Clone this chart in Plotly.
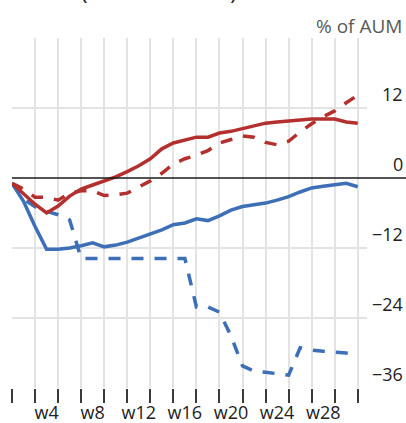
import plotly.graph_objects as go

# Weekly cumulative flows, % of AUM
weeks = list(range(1, 32))

red_solid = [-0.9, -2.7, -4.5, -6.0, -4.8, -3.1, -1.9, -1.2, -0.5, 0.2,
             1.1, 2.1, 3.3, 5.0, 6.0, 6.5, 7.0, 7.0, 7.7, 8.0,
             8.5, 8.9, 9.4, 9.6, 9.8, 9.9, 10.1, 10.1, 10.1, 9.6, 9.4]

red_dashed = [-0.9, -1.9, -3.3, -3.3, -3.8, -2.6, -2.2, -2.2, -3.0, -2.9,
              -2.6, -1.5, -0.5, 0.8, 2.4, 3.3, 3.9, 4.7, 6.0, 6.6,
              7.2, 7.0, 6.1, 5.7, 6.3, 7.9, 9.3, 10.5, 11.5, 12.9, 14.2]

blue_solid = [-0.9, -4.0, -8.3, -12.2, -12.2, -12.0, -11.6, -11.1, -11.8, -11.5,
              -11.0, -10.3, -9.6, -8.9, -8.0, -7.7, -7.0, -7.3, -6.5, -5.5,
              -4.9, -4.6, -4.3, -3.8, -3.2, -2.4, -1.7, -1.4, -1.2, -0.9, -1.5]

blue_dashed = [-0.9, -3.6, -4.9, -5.7, -6.3, -7.2, -13.8, -13.8, -13.8, -13.8,
               -13.8, -13.8, -13.8, -13.8, -13.8, -13.8, -22.1, -22.1, -23.0, -27.1,
               -32.2, -33.1, -33.3, -33.6, -33.8, -29.1, -29.5, -29.7, -29.8, -30.0, -30.2]

x_tick_weeks = [4, 8, 12, 16, 20, 24, 28]
x_tick_labels = ["w4", "w8", "w12", "w16", "w20", "w24", "w28"]
y_tick_values = [12, 0, -12, -24, -36]
y_tick_labels = ["12", "0", "\u221212", "\u221224", "\u221236"]
grid_values = [24, 12, -12, -24]

RED = "#b3302e"
BLUE = "#3d6fb6"
FONT = "Open Sans"

fig = go.Figure()

series = [
    (blue_dashed, BLUE, "12px,11px"),
    (blue_solid, BLUE, "solid"),
    (red_dashed, RED, "12px,11px"),
    (red_solid, RED, "solid"),
]
for values, color, dash in series:
    fig.add_trace(go.Scatter(
        x=weeks, y=values, mode="lines",
        line=dict(color=color, width=3.5, dash=dash),
        showlegend=False, hoverinfo="skip",
    ))

# Zero line runs under the right-hand labels
fig.add_shape(type="line", xref="paper", yref="y", x0=0, x1=1.11, y0=0, y1=0,
              line=dict(color="#1a1a1a", width=1.5), layer="above")

# Right-hand value labels sit just above their gridlines
for v, t in zip(y_tick_values, y_tick_labels):
    fig.add_annotation(x=1.107, xref="paper", y=v, yref="y", text=t,
                       xanchor="right", yanchor="bottom", showarrow=False,
                       font=dict(family=FONT, size=18, color="#222222"))

fig.add_annotation(x=1.105, xref="paper", y=1.0, yref="paper", yshift=-3,
                   text="% of AUM", xanchor="right", yanchor="bottom",
                   showarrow=False, font=dict(family=FONT, size=19, color="#5a5a5a"))

fig.add_annotation(x=0.19, xref="paper", y=1.085, yref="paper",
                   text="(" + "\u00a0" * 25 + ")", xanchor="left", yanchor="bottom",
                   showarrow=False, font=dict(family=FONT, size=22, color="#222222"))

fig.update_layout(
    width=406, height=423,
    margin=dict(l=12, r=39, t=38, b=35),
    paper_bgcolor="white", plot_bgcolor="white",
    font=dict(family=FONT, size=18, color="#222222"),
    xaxis=dict(
        range=[1, 31.8], tickvals=x_tick_weeks, ticktext=x_tick_labels,
        ticks="outside", ticklen=8, tickcolor="rgba(0,0,0,0)",
        showgrid=False, zeroline=False, showline=False, automargin=False,
        tickfont=dict(family=FONT, size=18, color="#222222"),
        minor=dict(tick0=1, dtick=2, ticks="outside", ticklen=14, tickwidth=1.5,
                   tickcolor="#3a3a3a", showgrid=True, gridcolor="#e3e3e3", gridwidth=1.5),
    ),
    yaxis=dict(
        range=[-36, 24], tickvals=grid_values, showticklabels=False,
        showgrid=True, gridcolor="#e3e3e3", gridwidth=1.5, automargin=False,
        zeroline=False, showline=False, ticks="",
    ),
)

fig.write_html("out.html")
